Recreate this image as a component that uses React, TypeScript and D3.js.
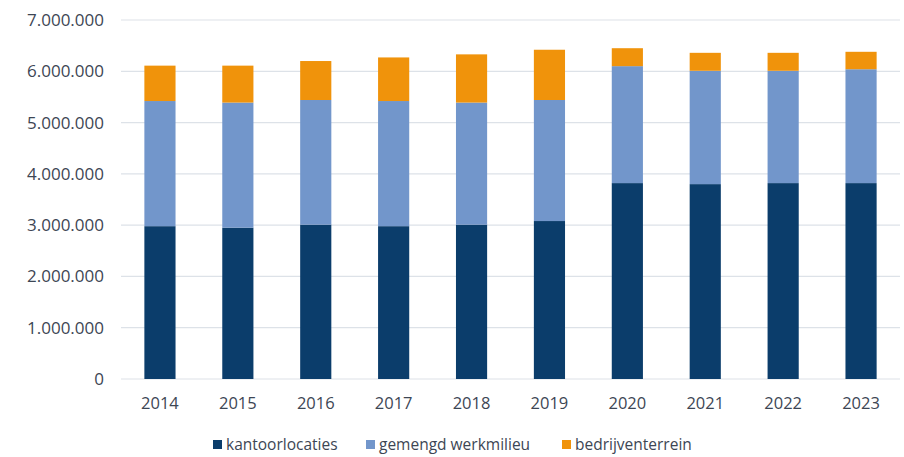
import React from "react";
import * as d3 from "d3";

const years = ["2014","2015","2016","2017","2018","2019","2020","2021","2022","2023"];
const kantoorlocaties = [2980000,2950000,3010000,2980000,3010000,3080000,3820000,3800000,3820000,3820000];
const gemengdWerkmilieu = [2440000,2440000,2430000,2440000,2380000,2360000,2280000,2210000,2190000,2220000];
const bedrijventerrein = [690000,720000,760000,850000,940000,980000,350000,350000,350000,340000];
const seriesNames = ["kantoorlocaties","gemengd werkmilieu","bedrijventerrein"];
const seriesColors = ["#0b3d6b","#7296cb","#f0930b"];
const yTicks = [0,1000000,2000000,3000000,4000000,5000000,6000000,7000000];

const W = 904, H = 457;
const m = { left: 121, right: 4, top: 20, bottom: 78 };

export default function App() {
  const x = d3.scaleBand().domain(years).range([m.left, W - m.right]).paddingInner(0.6).paddingOuter(0.3);
  const y = d3.scaleLinear().domain([0, 7000000]).range([H - m.bottom, m.top]);
  const rows = years.map((yr, i) => ({ year: yr, k: kantoorlocaties[i], g: gemengdWerkmilieu[i], b: bedrijventerrein[i] }));
  const stacked = d3.stack<any>().keys(["k","g","b"])(rows);
  const fmt = (v: number) => d3.format(",")(v).replace(/,/g, ".");
  const font = "'Open Sans', sans-serif";
  const textColor = "#3d4654";
  const legendX = [213, 366, 562];
  return (
    <svg width={W} height={H} style={{ position: "absolute", left: 0, top: 0, background: "#fff" }}>
      {yTicks.map(t => (
        <g key={t}>
          <line x1={m.left} x2={W - m.right} y1={y(t)} y2={y(t)} stroke="#dde2e8" strokeWidth={1.2} />
          <text x={104} y={y(t)} dy="0.35em" textAnchor="end" fontFamily={font} fontSize={17} fill={textColor}>{fmt(t)}</text>
        </g>
      ))}
      {stacked.map((s, si) => (
        <g key={si} fill={seriesColors[si]}>
          {s.map((d: any, i: number) => (
            <rect key={i} x={x(years[i])} width={x.bandwidth()} y={y(d[1])} height={y(d[0]) - y(d[1])} />
          ))}
        </g>
      ))}
      {years.map(yr => (
        <text key={yr} x={(x(yr) as number) + x.bandwidth() / 2} y={403} dy="0.35em" textAnchor="middle" fontFamily={font} fontSize={16.5} fill={textColor}>{yr}</text>
      ))}
      {seriesNames.map((n, i) => (
        <g key={n}>
          <rect x={legendX[i]} y={440} width={9} height={9} fill={seriesColors[i]} />
          <text x={legendX[i] + 13} y={445} dy="0.35em" fontFamily={font} fontSize={15.5} fill={textColor}>{n}</text>
        </g>
      ))}
    </svg>
  );
}
